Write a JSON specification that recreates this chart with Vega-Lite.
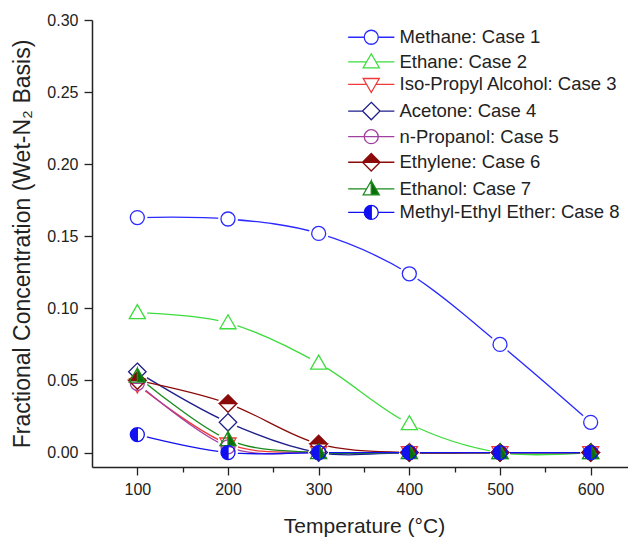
{
  "$schema": "https://vega.github.io/schema/vega-lite/v6.json",
  "width": 544,
  "height": 447,
  "padding": {"left": 92, "top": 20, "right": 0, "bottom": 72},
  "autosize": {"type": "none"},
  "background": "white",
  "config": {
    "view": {"stroke": null},
    "font": "Liberation Sans",
    "axis": {
      "domainColor": "#222", "domainWidth": 1.5, "tickColor": "#222", "tickWidth": 1.3,
      "labelFont": "Liberation Sans", "labelFontSize": 16, "labelColor": "#222",
      "titleFont": "Liberation Sans", "titleFontWeight": "normal", "titleColor": "#222",
      "grid": false, "labelOverlap": false, "labelFlush": false
    }
  },
  "data": {"values": [
    {"series": "Methane: Case 1", "t": 100, "v": 0.163},
    {"series": "Methane: Case 1", "t": 200, "v": 0.162},
    {"series": "Methane: Case 1", "t": 300, "v": 0.152},
    {"series": "Methane: Case 1", "t": 400, "v": 0.124},
    {"series": "Methane: Case 1", "t": 500, "v": 0.075},
    {"series": "Methane: Case 1", "t": 600, "v": 0.021},
    {"series": "Ethane: Case 2", "t": 100, "v": 0.097},
    {"series": "Ethane: Case 2", "t": 200, "v": 0.090},
    {"series": "Ethane: Case 2", "t": 300, "v": 0.062},
    {"series": "Ethane: Case 2", "t": 400, "v": 0.020},
    {"series": "Ethane: Case 2", "t": 500, "v": 0.000},
    {"series": "Ethane: Case 2", "t": 600, "v": 0.000},
    {"series": "Iso-Propyl Alcohol: Case 3", "t": 100, "v": 0.047},
    {"series": "Iso-Propyl Alcohol: Case 3", "t": 200, "v": 0.006},
    {"series": "Iso-Propyl Alcohol: Case 3", "t": 300, "v": 0.000},
    {"series": "Iso-Propyl Alcohol: Case 3", "t": 400, "v": 0.000},
    {"series": "Iso-Propyl Alcohol: Case 3", "t": 500, "v": 0.000},
    {"series": "Iso-Propyl Alcohol: Case 3", "t": 600, "v": 0.000},
    {"series": "Acetone: Case 4", "t": 100, "v": 0.056},
    {"series": "Acetone: Case 4", "t": 200, "v": 0.021},
    {"series": "Acetone: Case 4", "t": 300, "v": 0.000},
    {"series": "Acetone: Case 4", "t": 400, "v": 0.000},
    {"series": "Acetone: Case 4", "t": 500, "v": 0.000},
    {"series": "Acetone: Case 4", "t": 600, "v": 0.000},
    {"series": "n-Propanol: Case 5", "t": 100, "v": 0.048},
    {"series": "n-Propanol: Case 5", "t": 200, "v": 0.004},
    {"series": "n-Propanol: Case 5", "t": 300, "v": 0.000},
    {"series": "n-Propanol: Case 5", "t": 400, "v": 0.000},
    {"series": "n-Propanol: Case 5", "t": 500, "v": 0.000},
    {"series": "n-Propanol: Case 5", "t": 600, "v": 0.000},
    {"series": "Ethylene: Case 6", "t": 100, "v": 0.050},
    {"series": "Ethylene: Case 6", "t": 200, "v": 0.034},
    {"series": "Ethylene: Case 6", "t": 300, "v": 0.006},
    {"series": "Ethylene: Case 6", "t": 400, "v": 0.000},
    {"series": "Ethylene: Case 6", "t": 500, "v": 0.000},
    {"series": "Ethylene: Case 6", "t": 600, "v": 0.000},
    {"series": "Ethanol: Case 7", "t": 100, "v": 0.053},
    {"series": "Ethanol: Case 7", "t": 200, "v": 0.009},
    {"series": "Ethanol: Case 7", "t": 300, "v": 0.000},
    {"series": "Ethanol: Case 7", "t": 400, "v": 0.000},
    {"series": "Ethanol: Case 7", "t": 500, "v": 0.000},
    {"series": "Ethanol: Case 7", "t": 600, "v": 0.000},
    {"series": "Methyl-Ethyl Ether: Case 8", "t": 100, "v": 0.0125},
    {"series": "Methyl-Ethyl Ether: Case 8", "t": 200, "v": 0.000},
    {"series": "Methyl-Ethyl Ether: Case 8", "t": 300, "v": 0.000},
    {"series": "Methyl-Ethyl Ether: Case 8", "t": 400, "v": 0.000},
    {"series": "Methyl-Ethyl Ether: Case 8", "t": 500, "v": 0.000},
    {"series": "Methyl-Ethyl Ether: Case 8", "t": 600, "v": 0.000}
  ]},
  "layer": [
    {
      "mark": {"type": "line", "interpolate": "cardinal", "strokeWidth": 1.3},
      "encoding": {
        "x": {"field": "t", "type": "quantitative", "scale": {"domain": [50, 650], "nice": false},
          "axis": {"title": "Temperature (°C)", "titleFontSize": 21, "values": [100,150,200,250,300,350,400,450,500,550,600],
            "labelExpr": "datum.value % 100 == 0 ? datum.label : ''",
            "tickSize": {"condition": {"test": "datum.value % 100 == 0", "value": 8}, "value": 5},
            "labelPadding": 6, "titlePadding": 18}},
        "y": {"field": "v", "type": "quantitative", "scale": {"domain": [-0.01, 0.30], "nice": false, "zero": false},
          "axis": {"title": "Fractional Concentration (Wet-N₂ Basis)", "titleFontSize": 23,
            "values": [0,0.025,0.05,0.075,0.1,0.125,0.15,0.175,0.2,0.225,0.25,0.275,0.3],
            "format": ".2f",
            "labelExpr": "abs(datum.value*20 - round(datum.value*20)) < 0.001 ? datum.label : ''",
            "tickSize": {"condition": {"test": "abs(datum.value*20 - round(datum.value*20)) < 0.001", "value": 8}, "value": 5},
            "labelPadding": 6, "titlePadding": 12}},
        "stroke": {"field": "series", "type": "nominal", "legend": null,
          "scale": {"domain": ["Methane: Case 1","Ethane: Case 2","Iso-Propyl Alcohol: Case 3","Acetone: Case 4","n-Propanol: Case 5","Ethylene: Case 6","Ethanol: Case 7","Methyl-Ethyl Ether: Case 8"],
            "range": ["#2a2aff","#3ddc3d","#f03a3a","#1e1e8c","#a040a0","#8b0a0a","#1a8a1a","#1010f0"]}},
        "detail": {"field": "series"}
      }
    },
    {
      "mark": {"type": "point", "filled": true, "fill": "white", "stroke": null, "opacity": 1, "size": 400, "shape": "circle"},
      "encoding": {
        "x": {"field": "t", "type": "quantitative"},
        "y": {"field": "v", "type": "quantitative"},
        "detail": {"field": "series"}
      }
    },
    {
      "mark": {"type": "point", "filled": true, "opacity": 1, "size": 196, "strokeWidth": 1.3},
      "encoding": {
        "x": {"field": "t", "type": "quantitative"},
        "y": {"field": "v", "type": "quantitative"},
        "stroke": {"field": "series", "type": "nominal", "legend": null,
          "scale": {"domain": ["Methane: Case 1","Ethane: Case 2","Iso-Propyl Alcohol: Case 3","Acetone: Case 4","n-Propanol: Case 5","Ethylene: Case 6","Ethanol: Case 7","Methyl-Ethyl Ether: Case 8"],
            "range": ["#2a2aff","#3ddc3d","#f03a3a","#1e1e8c","#a040a0","#8b0a0a","#1a8a1a","#1010f0"]}},
        "fill": {"field": "series", "type": "nominal", "legend": null,
          "scale": {"domain": ["Methane: Case 1","Ethane: Case 2","Iso-Propyl Alcohol: Case 3","Acetone: Case 4","n-Propanol: Case 5","Ethylene: Case 6","Ethanol: Case 7","Methyl-Ethyl Ether: Case 8"],
            "range": ["white","white","white","white","white","#8b0a0a","#0a6e0a","#1010f0"]}},
        "shape": {"field": "series", "type": "nominal", "legend": null,
          "scale": {"domain": ["Methane: Case 1","Ethane: Case 2","Iso-Propyl Alcohol: Case 3","Acetone: Case 4","n-Propanol: Case 5","Ethylene: Case 6","Ethanol: Case 7","Methyl-Ethyl Ether: Case 8"],
            "range": [
              "M-1,0A1,1 0 1,1 1,0A1,1 0 1,1 -1,0Z",
              "M0,-1.15L1.15,0.85L-1.15,0.85Z",
              "M0,1.15L1.15,-0.85L-1.15,-0.85Z",
              "M0,-1.25L1.25,0L0,1.25L-1.25,0Z",
              "M-1,0A1,1 0 1,1 1,0A1,1 0 1,1 -1,0ZM-1,0L1,0",
              "M0,-1.25L1.25,0L0,1.25L-1.25,0ZM-1.25,0L0,1.25L1.25,0Z",
              "M0,-1.15L1.15,0.85L-1.15,0.85ZM0,-1.15L-1.15,0.85L0,0.85Z",
              "M0,-1A1,1 0 1,1 0,1A1,1 0 1,1 0,-1ZM0,-1L0,1A1,1 0 0,0 0,-1Z"
            ]}}
      }
    },
    {
      "transform": [{"filter": "datum.t > 100000"}],
      "mark": {"type": "point", "filled": true, "opacity": 1, "size": 196, "strokeWidth": 1.3},
      "encoding": {
        "x": {"field": "t", "type": "quantitative"},
        "y": {"field": "v", "type": "quantitative"},
        "stroke": {"field": "series", "type": "nominal",
          "legend": {"title": null},
          "scale": {"domain": ["Methane: Case 1","Ethane: Case 2","Iso-Propyl Alcohol: Case 3","Acetone: Case 4","n-Propanol: Case 5","Ethylene: Case 6","Ethanol: Case 7","Methyl-Ethyl Ether: Case 8"],
            "range": ["#2a2aff","#3ddc3d","#f03a3a","#1e1e8c","#a040a0","#8b0a0a","#1a8a1a","#1010f0"]}},
        "fill": {"field": "series", "type": "nominal",
          "legend": {"title": null},
          "scale": {"domain": ["Methane: Case 1","Ethane: Case 2","Iso-Propyl Alcohol: Case 3","Acetone: Case 4","n-Propanol: Case 5","Ethylene: Case 6","Ethanol: Case 7","Methyl-Ethyl Ether: Case 8"],
            "range": ["white","white","white","white","white","#8b0a0a","#0a6e0a","#1010f0"]}},
        "shape": {"field": "series", "type": "nominal",
          "legend": {"title": null, "orient": "none", "legendX": 270, "legendY": 8, "symbolSize": 196, "symbolStrokeWidth": 1.3,
            "labelFont": "Liberation Sans", "labelFontSize": 18.5, "labelColor": "#222", "labelOffset": 19, "rowPadding": 3.6, "labelLimit": 400},
          "scale": {"domain": ["Methane: Case 1","Ethane: Case 2","Iso-Propyl Alcohol: Case 3","Acetone: Case 4","n-Propanol: Case 5","Ethylene: Case 6","Ethanol: Case 7","Methyl-Ethyl Ether: Case 8"],
            "range": [
              "M-3.3,0L-1,0M1,0L3.3,0M-1,0A1,1 0 1,1 1,0A1,1 0 1,1 -1,0Z",
              "M-3.3,0L-0.66,0M0.66,0L3.3,0M0,-1.15L1.15,0.85L-1.15,0.85Z",
              "M-3.3,0L-0.66,0M0.66,0L3.3,0M0,1.15L1.15,-0.85L-1.15,-0.85Z",
              "M-3.3,0L-1.25,0M1.25,0L3.3,0M0,-1.25L1.25,0L0,1.25L-1.25,0Z",
              "M-3.3,0L-1,0M1,0L3.3,0M-1,0A1,1 0 1,1 1,0A1,1 0 1,1 -1,0ZM-1,0L1,0",
              "M-3.3,0L-1.25,0M1.25,0L3.3,0M0,-1.25L1.25,0L0,1.25L-1.25,0ZM-1.25,0L0,1.25L1.25,0Z",
              "M-3.3,0L-0.66,0M0.66,0L3.3,0M0,-1.15L1.15,0.85L-1.15,0.85ZM0,-1.15L-1.15,0.85L0,0.85Z",
              "M-3.3,0L-1,0M1,0L3.3,0M0,-1A1,1 0 1,1 0,1A1,1 0 1,1 0,-1ZM0,-1L0,1A1,1 0 0,0 0,-1Z"
            ]}}
      }
    }
  ],
  "resolve": {"scale": {"shape": "independent", "fill": "independent", "stroke": "independent"}}
}
